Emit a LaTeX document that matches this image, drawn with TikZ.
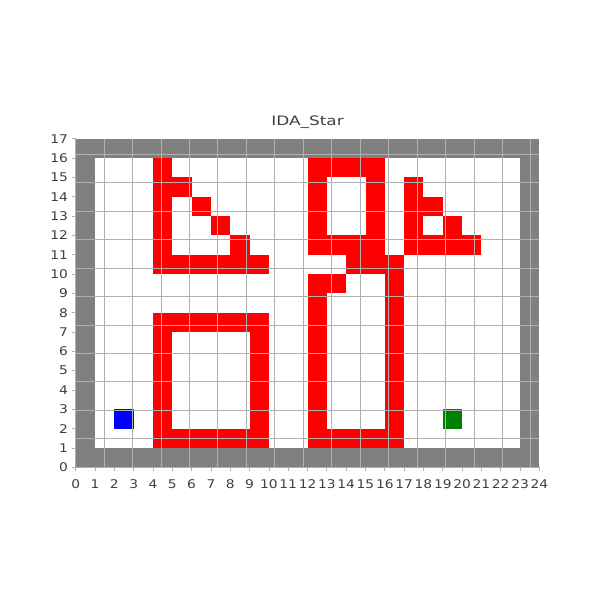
\documentclass[tikz,border=0pt]{standalone}
\usepackage{fontspec}
\setmainfont{DejaVu Sans}
\definecolor{wallgray}{HTML}{808080}
\definecolor{gridgray}{HTML}{B0B0B0}
\definecolor{obst}{HTML}{FF0000}
\definecolor{startc}{HTML}{0000FF}
\definecolor{goalc}{HTML}{008000}
\definecolor{txt}{HTML}{404040}
\begin{document}
\begin{tikzpicture}[x=19.32pt,y=19.32pt,
  ticklab/.style={text=txt, inner sep=0pt, font=\fontsize{12}{14}\selectfont},
  tickmark/.style={draw=gridgray, line width=0.8pt},
  titlelab/.style={text=txt, inner sep=0pt, font=\fontsize{13}{15}\selectfont}]
\useasboundingbox (-75.7pt,-132.7pt) rectangle (524.3pt,467.3pt);
\fill[white] (-75.7pt,-132.7pt) rectangle (524.3pt,467.3pt);
% walls
\fill[wallgray] (0,0) rectangle (24,1);
\fill[wallgray] (0,16) rectangle (24,17);
\fill[wallgray] (0,0) rectangle (1,17);
\fill[wallgray] (23,0) rectangle (24,17);
% obstacles
\foreach \x/\y in {4/15,4/14,5/14,4/13,6/13,4/12,7/12,4/11,8/11,
  4/10,5/10,6/10,7/10,8/10,9/10,
  4/7,5/7,6/7,7/7,8/7,9/7,
  4/6,4/5,4/4,4/3,4/2,9/6,9/5,9/4,9/3,9/2,
  4/1,5/1,6/1,7/1,8/1,9/1,
  12/15,13/15,14/15,15/15,12/14,12/13,12/12,15/14,15/13,15/12,
  12/11,13/11,14/11,15/11,14/10,15/10,16/10,12/9,13/9,16/9,
  12/8,12/7,12/6,12/5,12/4,12/3,12/2,16/8,16/7,16/6,16/5,16/4,16/3,16/2,
  12/1,13/1,14/1,15/1,16/1,
  17/14,17/13,18/13,17/12,19/12,17/11,18/11,19/11,20/11}
  \fill[obst] (\x,\y) rectangle ++(1,1);
% start and goal
\fill[startc] (2,2) rectangle (3,3);
\fill[goalc] (19,2) rectangle (20,3);
% grid
\draw[gridgray, line width=1pt] (0,0) grid (24,17);
% ticks and labels
\foreach \i in {0,...,24} {
  \draw[tickmark] (\i,0) -- ++(0,-3.5pt);
  \node[ticklab, anchor=base, yshift=-20.7pt] (xl\i) at (\i,0) {\scalebox{1.15}[1]{\i}};
}
\foreach \i in {0,...,17} {
  \draw[tickmark] (0,\i) -- ++(-3.5pt,0);
  \node[ticklab, anchor=east, xshift=-7.5pt] (yl\i) at (0,\i) {\scalebox{1.15}[1]{\i}};
}
\node[titlelab, anchor=base, yshift=13pt] (title) at (12,17) {\scalebox{1.3}[1]{IDA\_Star}};
\end{tikzpicture}
\end{document}
